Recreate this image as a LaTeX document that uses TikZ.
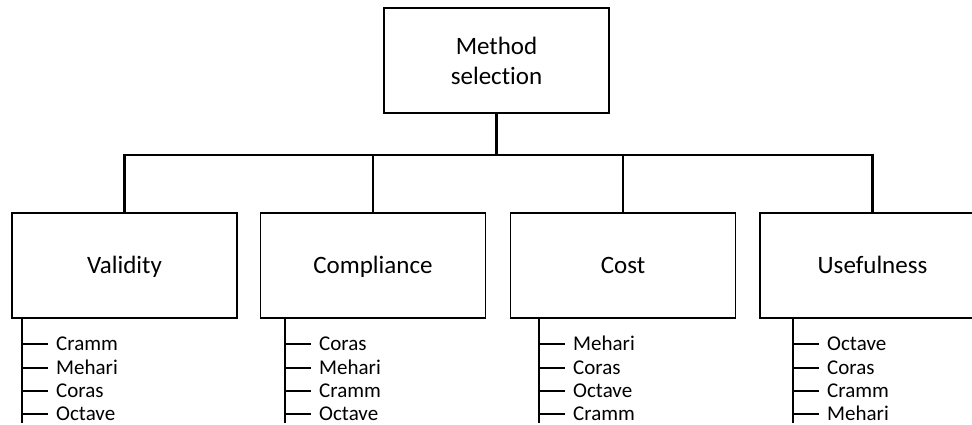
\documentclass[tikz,border=0pt]{standalone}
\usepackage{fontspec}
\setmainfont[Ligatures={NoCommon,NoContextual}]{Carlito}
\usepackage{tikz}

\tikzset{
  crit/.style={draw, line width=1.3pt, minimum width=225pt, minimum height=105pt,
    inner sep=0pt, align=center, font=\fontsize{25}{30}\selectfont},
  flat/.style={text height=16pt, text depth=0pt},
  conn/.style={line width=2.2pt},
  item/.style={anchor=west, inner xsep=8pt, inner ysep=0pt, text height=13pt,
    text depth=0pt, font=\fontsize{21}{24}\selectfont}
}

\begin{document}
\begin{tikzpicture}[x=1pt, y=-1pt]
\useasboundingbox (0,0) rectangle (972,425);
% top box and the four criteria
\node[crit] (ms) at (496.5,60.5) {Method\\selection};
\node[crit, flat] (val) at (124.5,265.5) {Validity};
\node[crit, flat] (com) at (373,265.5) {Compliance};
\node[crit, flat] (cost) at (623,265.5) {Cost};
\node[crit, flat] (use) at (872.5,265.5) {Usefulness};
\coordinate (j) at (496.5,155);
\draw [conn] (ms.south) -- (j);
\draw [conn] (val.north) |- (use.north |- j) -- (use.north);
\draw [conn] (com.north) -- (com.north |- j);
\draw [conn] (cost.north) -- (cost.north |- j);
% validity
\coordinate (vl) at (22,318);
\node[item] (v1) at (48,344) {Cramm};
\node[item] (v2) at (48,368) {Mehari};
\node[item] (v3) at (48,391) {Coras};
\node[item] (v4) at (48,414) {Octave};
\draw [conn] (vl) -- (22,423);
\draw [conn] (vl |- v1) -- (v1.west);
\draw [conn] (vl |- v2) -- (v2.west);
\draw [conn] (vl |- v3) -- (v3.west);
\draw [conn] (vl |- v4) -- (v4.west);
% compliance
\coordinate (cl) at (285,318);
\node[item] (c1) at (311,344) {Coras};
\node[item] (c2) at (311,368) {Mehari};
\node[item] (c3) at (311,391) {Cramm};
\node[item] (c4) at (311,414) {Octave};
\draw [conn] (cl) -- (285,423);
\draw [conn] (cl |- c1) -- (c1.west);
\draw [conn] (cl |- c2) -- (c2.west);
\draw [conn] (cl |- c3) -- (c3.west);
\draw [conn] (cl |- c4) -- (c4.west);
% cost
\coordinate (kl) at (539,318);
\node[item] (k1) at (565,344) {Mehari};
\node[item] (k2) at (565,368) {Coras};
\node[item] (k3) at (565,391) {Octave};
\node[item] (k4) at (565,414) {Cramm};
\draw [conn] (kl) -- (539,423);
\draw [conn] (kl |- k1) -- (k1.west);
\draw [conn] (kl |- k2) -- (k2.west);
\draw [conn] (kl |- k3) -- (k3.west);
\draw [conn] (kl |- k4) -- (k4.west);
% usefulness
\coordinate (ul) at (793,318);
\node[item] (u1) at (819,344) {Octave};
\node[item] (u2) at (819,368) {Coras};
\node[item] (u3) at (819,391) {Cramm};
\node[item] (u4) at (819,414) {Mehari};
\draw [conn] (ul) -- (793,423);
\draw [conn] (ul |- u1) -- (u1.west);
\draw [conn] (ul |- u2) -- (u2.west);
\draw [conn] (ul |- u3) -- (u3.west);
\draw [conn] (ul |- u4) -- (u4.west);
\end{tikzpicture}
\end{document}
